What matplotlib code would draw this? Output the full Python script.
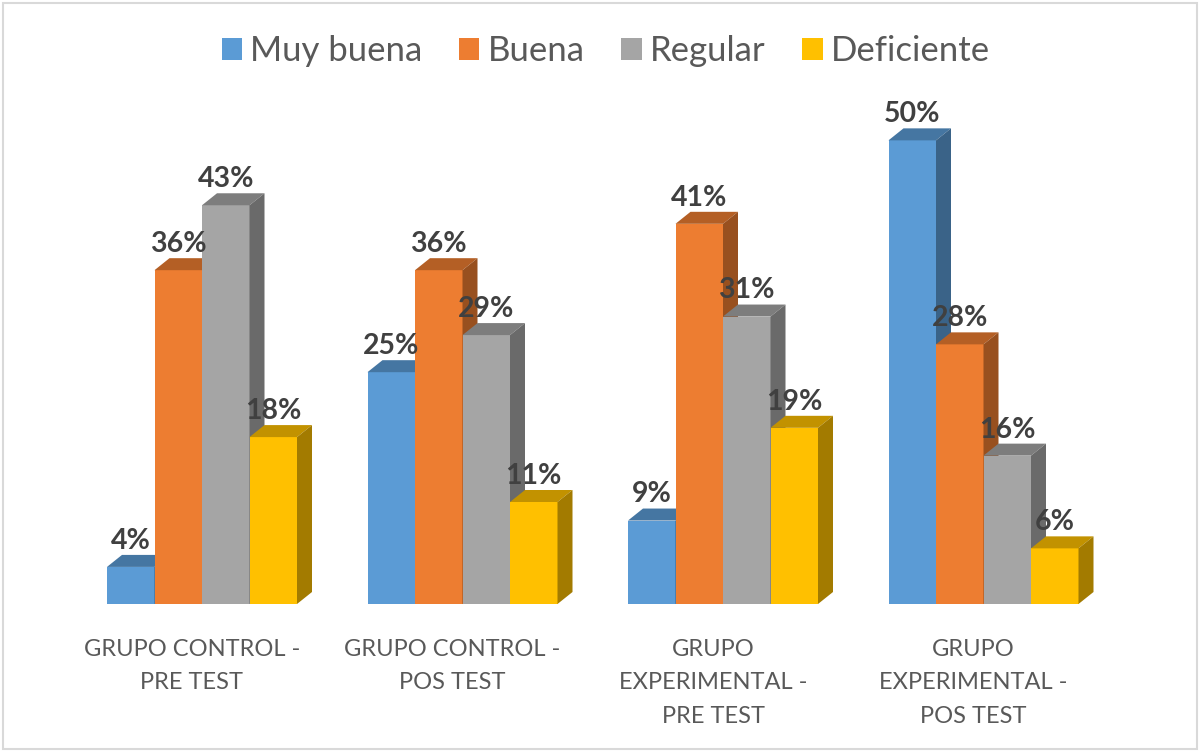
import numpy as np
import matplotlib
matplotlib.use("Agg")
import matplotlib.pyplot as plt
from matplotlib.patches import Polygon, Patch, Rectangle
from matplotlib.colors import to_rgb

plt.rcParams["font.family"] = ["Lato", "DejaVu Sans"]

# Data
groups = ["GRUPO CONTROL -\nPRE TEST", "GRUPO CONTROL -\nPOS TEST",
          "GRUPO\nEXPERIMENTAL -\nPRE TEST", "GRUPO\nEXPERIMENTAL -\nPOS TEST"]
series = ["Muy buena", "Buena", "Regular", "Deficiente"]
muy_buena = [4, 25, 9, 50]
buena = [36, 36, 41, 28]
regular = [43, 29, 31, 16]
deficiente = [18, 11, 19, 6]
colors = ["#5B9BD5", "#ED7D31", "#A5A5A5", "#FFC000"]


def shade(c, f):
    return tuple(v * f for v in to_rgb(c))


W, H = 1200, 752
fig = plt.figure(figsize=(W / 100, H / 100), dpi=100)

# axes placed so that group centres / baseline line up with the reference
ax = fig.add_axes([71.75 / W, 148 / H, 1042 / W, 510 / H])
ax.set_xlim(-0.5, 3.5)
ax.set_ylim(0, 55)
px_x = 1042 / 4.0      # pixels per x unit
px_y = 510 / 55.0      # pixels per percent

width = 47.5 / px_x
dx = 15 / px_x         # fake 3D depth
dy = 12 / px_y
x = np.arange(len(groups))

for j, (name, vals, c) in enumerate(zip(series, [muy_buena, buena, regular, deficiente], colors)):
    xc = x + (j - 1.5) * width
    ax.bar(xc, vals, width=width, color=c, linewidth=0, zorder=2)
    for xi, v in zip(xc, vals):
        xl, xr = xi - width / 2, xi + width / 2
        top = Polygon([(xl, v), (xl + dx, v + dy), (xr + dx, v + dy), (xr, v)],
                      closed=True, facecolor=shade(c, 0.76), edgecolor="none", zorder=2)
        side = Polygon([(xr, 0), (xr + dx, dy), (xr + dx, v + dy), (xr, v)],
                       closed=True, facecolor=shade(c, 0.64), edgecolor="none", zorder=2)
        ax.add_patch(top)
        ax.add_patch(side)
        ax.annotate(f"{v}%", (xi, v), xytext=(0, 13), textcoords="offset points",
                    ha="center", va="baseline", fontsize=20.5, fontweight="bold",
                    color="#404040", zorder=5)

# category labels sit a little left of the group centre, like the original
ax.set_xticks(x - 10 / px_x, groups, fontsize=17, color="#595959", linespacing=1.75)
ax.tick_params(axis="x", length=0, pad=25)
ax.set_yticks([])
for s in ax.spines.values():
    s.set_visible(False)

handles = [Patch(facecolor=c) for c in colors]
leg = fig.legend(handles, series, loc="center", bbox_to_anchor=(0.505, 1 - 51 / H),
                 ncol=4, frameon=False, fontsize=25, handlelength=0.58, handleheight=0.58,
                 handletextpad=0.25, columnspacing=1.05)
for t in leg.get_texts():
    t.set_color("#595959")

fig.add_artist(Rectangle((3 / W, 3 / H), (W - 6) / W, (H - 6) / H, transform=fig.transFigure,
                         fill=False, edgecolor="#D9D9D9", linewidth=1.5))

fig.savefig("out.png", dpi=100)
